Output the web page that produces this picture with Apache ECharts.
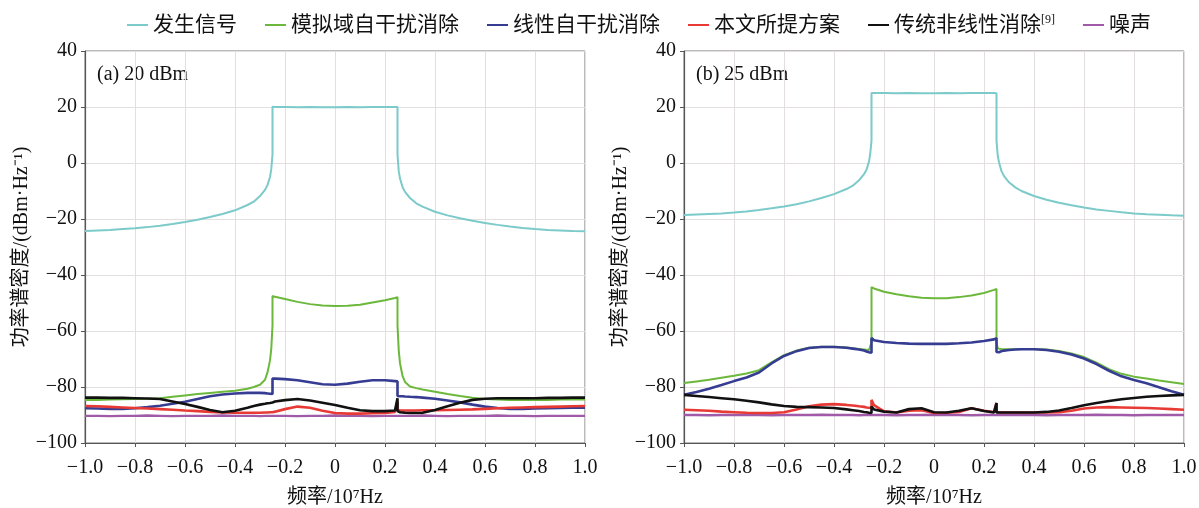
<!DOCTYPE html>
<html>
<head>
<meta charset="utf-8">
<script src="https://cdn.jsdelivr.net/npm/echarts@6/dist/echarts.min.js"></script>
<style>html,body{margin:0;padding:0;background:#fff}#c{width:1199px;height:508px}</style>
</head>
<body>
<div id="c"></div>
<script>
// frequency samples (x 10^7 Hz); -0.25 and 0.25 repeated for the band-edge steps
const freq = [-1.0,-0.95,-0.9,-0.85,-0.8,-0.75,-0.7,-0.65,-0.6,-0.55,-0.5,-0.45,-0.4,-0.35,-0.325,-0.3,
  -0.28,-0.27,-0.26,-0.255,-0.25,-0.25,-0.24,
  -0.2,-0.15,-0.1,-0.05,0,0.05,0.1,0.15,0.2,
  0.24,0.25,0.25,0.255,0.26,0.27,0.28,
  0.3,0.325,0.35,0.4,0.45,0.5,0.55,0.6,0.65,0.7,0.75,0.8,0.85,0.9,0.95,1.0];

const seriesNames = ['发生信号','模拟域自干扰消除','线性自干扰消除','本文所提方案','传统非线性消除','噪声'];
const panelLabels = ['(a) 20 dBm','(b) 25 dBm'];

// ---- panel (a) 20 dBm ----
const sigA = [-24.3,-24.1,-23.9,-23.6,-23.3,-22.9,-22.4,-21.8,-21.1,-20.3,-19.3,-18.2,-16.9,-15.0,-13.8,-11.8,
  -9.6,-7.9,-5.0,-2.2,3.0,20.1,20.0,
  20.0,19.9,20.0,19.9,19.9,20.0,19.9,20.0,20.0,
  20.0,20.0,3.0,-3.0,-5.5,-8.6,-10.3,
  -12.5,-14.4,-15.6,-17.4,-18.7,-19.7,-20.6,-21.4,-22.1,-22.7,-23.2,-23.6,-23.9,-24.1,-24.3,-24.4];
const simA = [-84.6,-84.6,-84.5,-84.4,-84.3,-84.2,-84.0,-83.5,-83.0,-82.5,-82.1,-81.7,-81.3,-80.6,-80.0,-79.2,
  -77.4,-74.8,-70.5,-66.5,-58.0,-47.5,-47.8,
  -48.6,-49.6,-50.4,-50.9,-51.1,-51.0,-50.6,-49.8,-49.0,
  -48.2,-47.9,-58.0,-67.0,-71.5,-76.0,-78.2,
  -79.8,-80.4,-80.9,-81.7,-82.5,-83.2,-83.8,-84.3,-84.5,-84.6,-84.6,-84.6,-84.6,-84.5,-84.5,-84.5];
const linA = [-87.6,-87.7,-87.8,-87.8,-87.6,-87.2,-86.7,-86.0,-85.3,-84.3,-83.3,-82.7,-82.3,-82.1,-82.1,-82.1,
  -82.2,-82.3,-82.4,-82.5,-82.5,-77.0,-77.0,
  -77.2,-77.6,-78.3,-79.0,-79.2,-78.8,-78.1,-77.6,-77.6,
  -77.9,-78.0,-83.2,-83.3,-83.3,-83.3,-83.4,
  -83.5,-83.6,-83.8,-84.2,-84.8,-85.5,-86.3,-87.0,-87.5,-87.8,-87.8,-87.7,-87.6,-87.5,-87.4,-87.4];
const propA = [-86.8,-86.9,-87.1,-87.3,-87.5,-87.7,-87.9,-88.1,-88.4,-88.6,-88.9,-89.1,-89.2,-89.2,-89.2,-89.2,
  -89.1,-89.1,-89.0,-89.0,-89.0,-89.0,-88.8,
  -87.9,-87.0,-87.4,-88.5,-89.3,-89.5,-89.5,-89.4,-89.3,
  -88.9,-85.2,-88.2,-88.3,-88.4,-88.4,-88.4,
  -88.4,-88.4,-88.3,-88.3,-88.2,-88.1,-88.0,-87.8,-87.6,-87.4,-87.3,-87.2,-87.1,-87.0,-86.9,-86.8];
const nlA = [-83.8,-83.8,-83.9,-83.9,-84.0,-84.1,-84.3,-85.2,-86.1,-87.1,-88.2,-89.0,-88.5,-87.4,-86.8,-86.3,
  -86.0,-85.8,-85.7,-85.6,-85.5,-85.5,-85.2,
  -84.7,-84.3,-84.8,-85.6,-86.4,-87.4,-88.3,-88.6,-88.6,
  -88.4,-84.0,-88.6,-88.9,-89.0,-89.1,-89.2,
  -89.3,-89.3,-89.2,-88.2,-86.9,-85.6,-84.6,-84.2,-84.0,-84.0,-84.0,-84.0,-83.9,-83.9,-83.8,-83.8];
const noiseA = [-90.3,-90.3,-90.4,-90.3,-90.3,-90.2,-90.3,-90.4,-90.3,-90.3,-90.3,-90.2,-90.3,-90.3,-90.3,-90.4,
  -90.3,-90.3,-90.3,-90.3,-90.3,-90.3,-90.3,
  -90.3,-90.4,-90.3,-90.3,-90.2,-90.3,-90.3,-90.4,-90.3,
  -90.3,-90.3,-90.3,-90.3,-90.3,-90.3,-90.3,
  -90.3,-90.3,-90.2,-90.3,-90.4,-90.3,-90.3,-90.3,-90.2,-90.3,-90.3,-90.4,-90.3,-90.3,-90.3,-90.3];

// ---- panel (b) 25 dBm ----
const sigB = [-18.6,-18.4,-18.2,-18.0,-17.7,-17.3,-16.8,-16.2,-15.5,-14.7,-13.7,-12.5,-11.1,-9.3,-8.1,-6.2,
  -4.0,-2.4,0.5,3.4,8.0,25.0,25.0,
  25.0,24.9,25.0,24.9,24.9,25.0,24.9,25.0,25.0,
  25.0,24.9,8.0,2.6,0.2,-2.9,-4.7,
  -6.9,-8.7,-10.0,-11.8,-13.1,-14.2,-15.1,-15.9,-16.6,-17.1,-17.6,-18.0,-18.3,-18.5,-18.7,-18.8];
const simB = [-78.6,-78.0,-77.4,-76.7,-76.0,-75.2,-74.0,-71.2,-68.6,-67.0,-66.0,-65.6,-65.6,-65.9,-66.2,-66.4,
  -66.6,-66.7,-66.8,-66.6,-64.0,-44.3,-44.8,
  -46.0,-46.9,-47.6,-48.1,-48.3,-48.3,-47.9,-47.3,-46.4,
  -45.3,-45.0,-64.0,-66.2,-66.4,-66.5,-66.5,
  -66.5,-66.5,-66.4,-66.4,-66.6,-67.1,-68.0,-69.3,-71.3,-73.6,-75.3,-76.3,-77.0,-77.7,-78.3,-78.9];
const linB = [-82.8,-81.8,-80.6,-79.3,-77.9,-76.6,-74.8,-71.6,-68.9,-67.2,-66.1,-65.7,-65.7,-66.0,-66.3,-66.6,
  -67.0,-67.3,-67.6,-67.8,-67.8,-62.5,-63.3,
  -63.9,-64.3,-64.5,-64.6,-64.6,-64.6,-64.4,-64.1,-63.6,
  -63.0,-62.6,-67.5,-67.9,-67.6,-67.2,-67.0,
  -66.8,-66.6,-66.5,-66.5,-66.8,-67.4,-68.4,-69.8,-71.8,-74.2,-76.2,-77.5,-78.7,-80.1,-81.5,-82.8];
const propB = [-88.1,-88.3,-88.5,-88.8,-89.0,-89.2,-89.3,-89.3,-89.0,-88.0,-86.9,-86.3,-86.1,-86.4,-86.6,-86.9,
  -87.1,-87.3,-87.4,-87.5,-87.5,-84.6,-86.5,
  -88.7,-89.1,-88.5,-88.3,-89.3,-89.2,-88.9,-87.6,-88.5,
  -88.9,-85.7,-88.9,-89.0,-89.0,-89.1,-89.1,
  -89.1,-89.1,-89.1,-89.1,-89.1,-89.0,-88.5,-87.7,-87.3,-87.2,-87.3,-87.4,-87.5,-87.7,-87.9,-88.1];
const nlB = [-82.8,-83.2,-83.6,-84.0,-84.4,-84.9,-85.5,-86.2,-86.8,-87.1,-87.2,-87.3,-87.5,-88.0,-88.3,-88.6,
  -88.9,-89.0,-89.2,-89.3,-89.3,-87.0,-88.0,
  -88.8,-89.1,-87.9,-87.6,-89.0,-89.1,-88.5,-87.6,-88.6,
  -89.1,-85.7,-89.1,-89.1,-89.1,-89.1,-89.1,
  -89.1,-89.1,-89.1,-89.1,-88.9,-88.4,-87.5,-86.5,-85.7,-85.0,-84.4,-83.9,-83.5,-83.2,-83.0,-82.8];
const noiseB = [-90.0,-90.0,-90.1,-90.0,-90.0,-89.9,-90.0,-90.1,-90.0,-90.0,-90.0,-89.9,-90.0,-90.0,-90.0,-90.1,
  -90.0,-90.0,-90.0,-90.0,-90.0,-90.0,-90.0,
  -90.0,-90.1,-90.0,-90.0,-89.9,-90.0,-90.0,-90.1,-90.0,
  -90.0,-90.0,-90.0,-90.0,-90.0,-90.0,-90.0,
  -90.0,-90.0,-89.9,-90.0,-90.1,-90.0,-90.0,-90.0,-89.9,-90.0,-90.0,-90.1,-90.0,-90.0,-90.0,-90.0];

const colors = ['#7ccaca','#6cb83c','#363c92','#e83a35','#111111','#a05aa8'];
const widths = [2,2,2.6,2.6,2.6,2.4];
const panelData = [[sigA,simA,linA,propA,nlA,noiseA],[sigB,simB,linB,propB,nlB,noiseB]];

const FONT = "'Liberation Serif','Noto Sans CJK SC',serif";
const minus = s => String(s).replace(/-/g, '\u2212');

const grids = [
  {left:85, top:51, width:500, height:392, show:true, borderColor:'#777', borderWidth:1, outerBoundsMode:'none', containLabel:false},
  {left:684, top:51, width:500, height:392, show:true, borderColor:'#777', borderWidth:1, outerBoundsMode:'none', containLabel:false}
];
const xAxes = grids.map((g,i)=>({
  type:'value', gridIndex:i, min:-1, max:1, interval:0.2,
  name:'频率/10\u2077Hz', nameLocation:'middle', nameGap:45,
  nameTextStyle:{fontFamily:FONT, fontSize:20, color:'#111'},
  axisLine:{show:true, onZero:false, lineStyle:{color:'#555', width:1.2}},
  axisTick:{show:true, length:4, lineStyle:{color:'#555'}},
  axisLabel:{fontFamily:FONT, fontSize:20, color:'#111', margin:15,
    formatter:v=> Math.abs(v)<1e-9 ? '0' : minus(v.toFixed(1))},
  splitLine:{show:true, lineStyle:{color:'#e4dfdf', width:1}}
}));
const yAxes = grids.map((g,i)=>({
  type:'value', gridIndex:i, min:-100, max:40, interval:20,
  name:'功率谱密度/(dBm·Hz\u207B\u00B9)', nameLocation:'middle', nameGap: i===0 ? 40 : 37, nameRotate:90,
  nameTextStyle:{fontFamily:FONT, fontSize:20, color:'#111'},
  axisLine:{show:true, onZero:false, lineStyle:{color:'#555', width:1.2}},
  axisTick:{show:true, length:4, lineStyle:{color:'#555'}},
  axisLabel:{fontFamily:FONT, fontSize:20, color:'#111', margin:8, formatter:v=>minus(v)},
  splitLine:{show:true, lineStyle:{color:'#e4dfdf', width:1}}
}));

const series = [];
panelData.forEach((arrs, p) => {
  arrs.forEach((ys, k) => {
    series.push({
      type:'line', name:seriesNames[k], xAxisIndex:p, yAxisIndex:p,
      data: freq.map((x,i)=>[x, ys[i]]),
      symbol:'none', animation:false, z: k===5 ? 1 : 2+k,
      lineStyle:{color:colors[k], width:widths[k]},
      itemStyle:{color:colors[k]}
    });
  });
});

const chart = echarts.init(document.getElementById('c'), null, {renderer:'canvas'});
chart.setOption({
  backgroundColor:'#fff',
  animation:false,
  color:colors,
  legend:{
    data:seriesNames, left:122, top:9, icon:'rect', itemWidth:21, itemHeight:2, itemGap:28,
    textStyle:{fontFamily:FONT, fontSize:21, color:'#111',
      rich:{s:{fontFamily:FONT, fontSize:12, color:'#111', padding:[0,0,10,0]}}},
    formatter: n => n==='传统非线性消除' ? n+'{s|[9]}' : n
  },
  grid:grids, xAxis:xAxes, yAxis:yAxes, series:series,
  graphic: panelLabels.map((t,i)=>({
    type:'text', left: grids[i].left+12, top:65,
    style:{text:t, font:"20px 'Liberation Serif'", fill:'#111'}
  }))
});
</script>
</body>
</html>
